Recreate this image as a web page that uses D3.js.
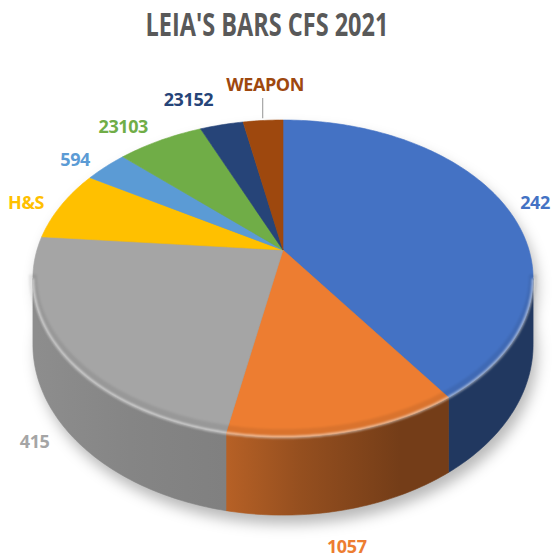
<!DOCTYPE html>
<html>
<head>
<meta charset="utf-8">
<script src="https://cdn.jsdelivr.net/npm/d3@7"></script>
<style>
  body { margin: 0; background: #fff; }
</style>
</head>
<body>
<div id="chart"></div>
<script>
// call types and their counts
const categories = ["242", "1057", "415", "H&S", "594", "23103", "23152", "WEAPON"];
const values = [145, 46, 84, 26, 12, 24, 12, 11];
const colors = ["#4472C4", "#ED7D31", "#A5A5A5", "#FFC000", "#5B9BD5", "#70AD47", "#264478", "#9E480E"];
const chartTitle = "LEIA'S BARS CFS 2021";

// label placement: radius factor, which face (0 top / 1 bottom), pixel nudge
const labelNudge = [
  [1.15, 0, -2, 3],
  [1.15, 1, -10, 0],
  [1.10, 1, -3, 4],
  [1.15, 0, -4, 4],
  [1.15, 0, -7, 4],
  [1.15, 0, -21, 0],
  [1.20, 0, -23, -4],
  [1.30, 0, 7, -4]
];

const width = 553, height = 560;
// perspective disc: centre, half width, half depth, perspective factor, thickness
const cx = 283, cy = 250, A = 246, B = 153.4, K = 0.18, H = 64;

function proj(a, r, z) {
  const u = Math.sin(a) * r, t = -Math.cos(a) * r, d = 1 - K * t;
  return [cx + A * u / d, cy + (B * t + H * z) / d];
}
function arcPts(a0, a1, z) {
  const n = Math.max(2, Math.ceil(Math.abs(a1 - a0) / (Math.PI / 180)));
  return d3.range(n + 1).map(i => proj(a0 + (a1 - a0) * i / n, 1, z));
}
const line = d3.line();

const svg = d3.select("#chart").append("svg")
  .attr("width", width)
  .attr("height", height)
  .style("font-family", "'Open Sans', 'Liberation Sans', sans-serif");

const defs = svg.append("defs");
defs.append("filter").attr("id", "shadowBlur")
  .attr("x", "-20%").attr("y", "-20%").attr("width", "140%").attr("height", "140%")
  .append("feGaussianBlur").attr("stdDeviation", 7);
defs.append("filter").attr("id", "softLine")
  .append("feGaussianBlur").attr("stdDeviation", 1.2);

// side shading across the disc, left to right
const shade = [[37, 0.45], [130, 0.6], [225, 0.72], [300, 1.3], [400, 2.0], [529, 2.0]];
colors.forEach((c, i) => {
  const g = defs.append("linearGradient")
    .attr("id", "side" + i)
    .attr("gradientUnits", "userSpaceOnUse")
    .attr("x1", 37).attr("x2", 529).attr("y1", 0).attr("y2", 0);
  shade.forEach(([x, k]) => {
    g.append("stop")
      .attr("offset", (x - 37) / (529 - 37))
      .attr("stop-color", d3.color(c).darker(k));
  });
});

const pie = d3.pie().sort(null).value(d => d)(values);

// drop shadow
const shadow = svg.append("g")
  .attr("transform", "translate(4,9)")
  .attr("filter", "url(#shadowBlur)")
  .attr("fill", "#000")
  .attr("fill-opacity", 0.28);
shadow.append("path").attr("d", line(arcPts(0, 2 * Math.PI, 1)) + "Z");
shadow.append("path").attr("d", line(arcPts(0, 2 * Math.PI, 0)) + "Z");

// visible front wall
const aR = Math.acos(-K), aL = 2 * Math.PI - aR;
const sides = svg.append("g");
pie.forEach((p, i) => {
  const s0 = Math.max(p.startAngle, aR), s1 = Math.min(p.endAngle, aL);
  if (s1 <= s0) return;
  const pts = arcPts(s0, s1, 0).concat(arcPts(s1, s0, 1));
  sides.append("path")
    .attr("d", line(pts) + "Z")
    .attr("fill", `url(#side${i})`)
    .attr("stroke", `url(#side${i})`)
    .attr("stroke-width", 0.6);
});

// top face
const tops = svg.append("g");
pie.forEach((p, i) => {
  const pts = [proj(0, 0, 0)].concat(arcPts(p.startAngle, p.endAngle, 0));
  tops.append("path")
    .attr("d", line(pts) + "Z")
    .attr("fill", colors[i])
    .attr("stroke", colors[i])
    .attr("stroke-width", 0.6)
    .attr("stroke-linejoin", "round");
});

// soft bevel on the front rim: faint dark band inside, light line on the edge
svg.append("path")
  .attr("d", line(arcPts(aR, aL, 0)))
  .attr("fill", "none")
  .attr("stroke", "#000")
  .attr("stroke-opacity", 0.08)
  .attr("stroke-width", 8)
  .attr("transform", "translate(0,-4)")
  .attr("filter", "url(#softLine)");
svg.append("path")
  .attr("d", line(arcPts(aR, aL, 0)))
  .attr("fill", "none")
  .attr("stroke", "#fff")
  .attr("stroke-opacity", 0.55)
  .attr("stroke-width", 2.5)
  .attr("filter", "url(#softLine)");

// title, squeezed horizontally to the narrow face of the original
const titleG = svg.append("g");
const titleText = titleG.append("text")
  .attr("text-anchor", "middle")
  .attr("font-size", 33)
  .attr("font-weight", "bold")
  .attr("fill", "#595959")
  .text(chartTitle);
const tw = titleText.node().getComputedTextLength();
titleG.attr("transform", `translate(267,36) scale(${243 / tw},1)`);

// data labels
const labels = svg.append("g")
  .attr("font-weight", "bold")
  .attr("font-size", 18)
  .attr("letter-spacing", -0.4)
  .attr("text-anchor", "middle");
pie.forEach((p, i) => {
  const mid = (p.startAngle + p.endAngle) / 2;
  const [r, z, dx, dy] = labelNudge[i];
  const [x, y] = proj(mid, r, z);
  labels.append("text")
    .attr("x", x + dx)
    .attr("y", y + dy)
    .attr("dy", "0.35em")
    .attr("fill", colors[i])
    .text(categories[i]);
  if (categories[i] === "WEAPON") {
    const [ex, ey] = proj(mid, 1.02, 0);
    svg.append("line")
      .attr("x1", ex).attr("y1", ey)
      .attr("x2", ex).attr("y2", y + dy + 13)
      .attr("stroke", "#A6A6A6")
      .attr("stroke-width", 1.2);
  }
});
</script>
</body>
</html>
